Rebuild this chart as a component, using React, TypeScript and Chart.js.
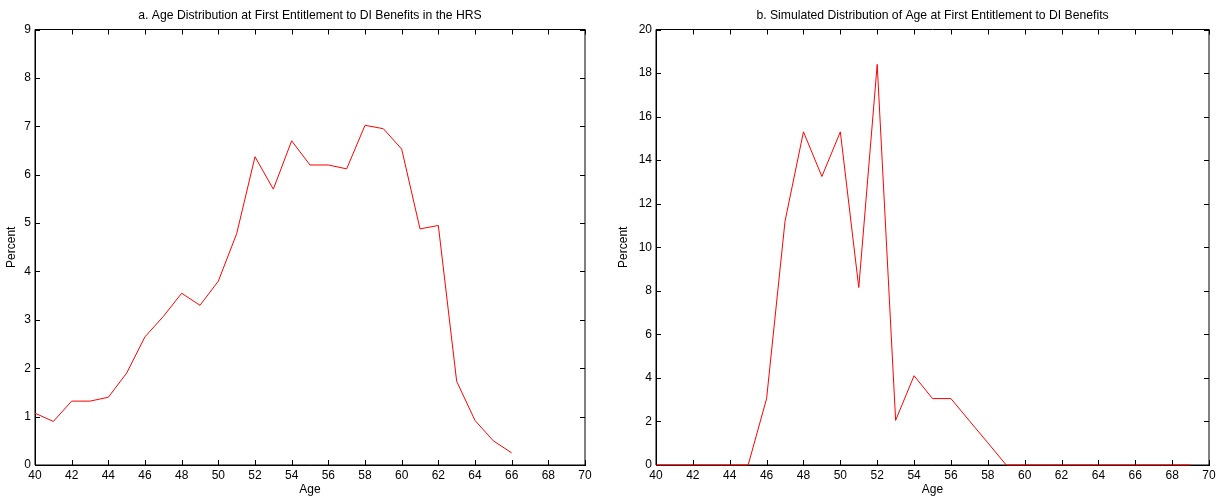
import React, { useEffect, useRef } from "react";
import { Chart, registerables } from "chart.js";

Chart.register(...registerables);

const agesA = [40, 41, 42, 43, 44, 45, 46, 47, 48, 49, 50, 51, 52, 53, 54, 55, 56, 57, 58, 59, 60, 61, 62, 63, 64, 65, 66];
const percentA = [1.07, 0.9, 1.32, 1.32, 1.4, 1.9, 2.65, 3.07, 3.55, 3.3, 3.8, 4.78, 6.37, 5.7, 6.7, 6.2, 6.2, 6.12, 7.02, 6.95, 6.53, 4.88, 4.95, 1.73, 0.92, 0.5, 0.25];

const agesB = [40, 41, 42, 43, 44, 45, 46, 47, 48, 49, 50, 51, 52, 53, 54, 55, 56, 57, 58, 59, 60, 61, 62, 63, 64, 65, 66, 67, 68, 69];
const percentB = [0, 0, 0, 0, 0, 0, 3.05, 11.2, 15.3, 13.25, 15.3, 8.15, 18.4, 2.05, 4.1, 3.05, 3.05, 2.03, 1.02, 0, 0, 0, 0, 0, 0, 0, 0, 0, 0, 0];

const titleA = "a. Age Distribution at First Entitlement to DI Benefits in the HRS";
const titleB = "b. Simulated Distribution of Age at First Entitlement to DI Benefits";
const xTitle = "Age";
const yTitle = "Percent";

const FONT = "'Liberation Sans', Arial, Helvetica, sans-serif";
const FS = 12;
const TFS = 12.2;

const framePlugin = {
  id: "frame",
  beforeDatasetsDraw(chart: any) {
    const { ctx, chartArea } = chart;
    const { left, right, top, bottom } = chartArea;
    const xs = chart.scales.x;
    const ys = chart.scales.y;
    const L = 5;
    ctx.save();
    ctx.strokeStyle = "#000";
    ctx.lineWidth = 1;
    ctx.beginPath();
    ctx.rect(left, top, right - left, bottom - top);
    for (const t of xs.ticks) {
      const px = Math.round(xs.getPixelForValue(t.value)) + 0.5;
      ctx.moveTo(px, bottom);
      ctx.lineTo(px, bottom - L);
      ctx.moveTo(px, top);
      ctx.lineTo(px, top + L);
    }
    for (const t of ys.ticks) {
      const py = Math.round(ys.getPixelForValue(t.value)) + 0.5;
      ctx.moveTo(left, py);
      ctx.lineTo(left + L, py);
      ctx.moveTo(right, py);
      ctx.lineTo(right - L, py);
    }
    ctx.stroke();
    ctx.restore();
  },
};

type PanelProps = {
  ages: number[];
  values: number[];
  title: string;
  yMax: number;
  yStep: number;
  yAxisWidth: number;
  padRight: number;
  width: number;
};

function Panel({ ages, values, title, yMax, yStep, yAxisWidth, padRight, width }: PanelProps) {
  const ref = useRef<HTMLCanvasElement | null>(null);
  useEffect(() => {
    if (!ref.current) return;
    const chart = new Chart(ref.current, {
      type: "line",
      data: {
        datasets: [
          {
            data: ages.map((a, i) => ({ x: a, y: values[i] })),
            borderColor: "#ff0000",
            borderWidth: 1,
            pointRadius: 0,
            tension: 0,
            fill: false,
            clip: false as any,
          },
        ],
      },
      options: {
        responsive: false,
        animation: false,
        layout: { padding: { left: 0, right: padRight, top: 0, bottom: 0 } },
        plugins: {
          legend: { display: false },
          tooltip: { enabled: false },
          title: {
            display: true,
            fullSize: false,
            text: title,
            color: "#000",
            font: { family: FONT, size: TFS, weight: "normal" as any, lineHeight: 1.2 },
            padding: { top: 8, bottom: 29.5 - 8 - TFS * 1.2 },
          },
        },
        scales: {
          x: {
            type: "linear",
            min: 40,
            max: 70,
            ticks: { stepSize: 2, color: "#000", font: { family: FONT, size: FS }, padding: 3, maxRotation: 0, autoSkip: false },
            grid: { display: true, drawOnChartArea: false, drawTicks: false, color: "#000" },
            border: { display: true, color: "#000" },
            title: { display: true, text: xTitle, color: "#000", font: { family: FONT, size: FS }, padding: { top: 0, bottom: 3 } },
            afterFit(scale: any) {
              scale.height = 35;
            },
          },
          y: {
            type: "linear",
            min: 0,
            max: yMax,
            ticks: { stepSize: yStep, color: "#000", font: { family: FONT, size: FS }, padding: 4 },
            grid: { display: true, drawOnChartArea: false, drawTicks: false, color: "#000" },
            border: { display: true, color: "#000" },
            title: { display: true, text: yTitle, color: "#000", font: { family: FONT, size: FS }, padding: { top: 4, bottom: 4 } },
            afterFit(scale: any) {
              scale.width = yAxisWidth;
            },
          },
        },
      },
      plugins: [framePlugin],
    });
    return () => chart.destroy();
  }, []);
  return <canvas ref={ref} width={width} height={500} style={{ display: "block" }} />;
}

export default function App() {
  return (
    <div style={{ position: "absolute", left: 0, top: 0, width: 1225, height: 500, background: "#fff", display: "flex" }}>
      <Panel ages={agesA} values={percentA} title={titleA} yMax={9} yStep={1} yAxisWidth={35} padRight={27} width={612} />
      <Panel ages={agesB} values={percentB} title={titleB} yMax={20} yStep={2} yAxisWidth={44} padRight={16} width={613} />
    </div>
  );
}
